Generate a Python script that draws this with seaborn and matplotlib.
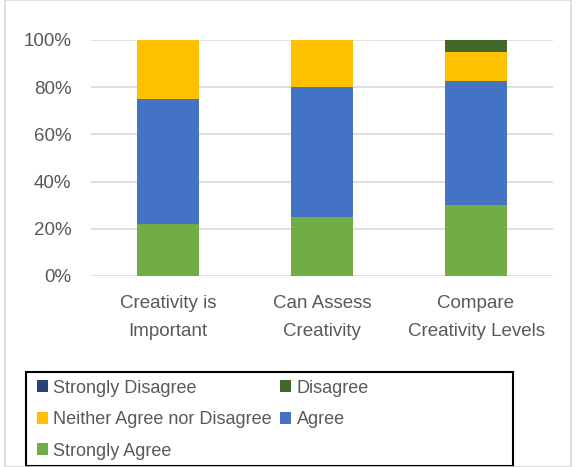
import pandas as pd
import matplotlib.pyplot as plt
import seaborn as sns
from matplotlib.patches import Patch, Rectangle
from matplotlib.ticker import PercentFormatter

categories = ["Creativity is\nImportant", "Can Assess\nCreativity", "Compare\nCreativity Levels"]
strongly_agree = [22.2, 25.0, 30.0]
agree = [52.8, 55.0, 52.5]
neither = [25.0, 20.0, 12.5]
disagree = [0.0, 0.0, 5.0]
strongly_disagree = [0.0, 0.0, 0.0]

series = ["Strongly Agree", "Agree", "Neither Agree nor Disagree", "Disagree", "Strongly Disagree"]
colors = {
    "Strongly Agree": "#70AD47",
    "Agree": "#4472C4",
    "Neither Agree nor Disagree": "#FFC000",
    "Disagree": "#43682B",
    "Strongly Disagree": "#264478",
}

df = pd.DataFrame({
    "category": categories,
    "Strongly Agree": strongly_agree,
    "Agree": agree,
    "Neither Agree nor Disagree": neither,
    "Disagree": disagree,
    "Strongly Disagree": strongly_disagree,
})
# cumulative tops, drawn from the top segment downwards so lower ones overlap
cum = df[series].cumsum(axis=1)
cum["category"] = df["category"]

sns.set_theme(style="white")
plt.rcParams["font.family"] = ["Liberation Sans", "DejaVu Sans"]
text_col = "#595959"

fig = plt.figure(figsize=(5.77, 4.67), dpi=100)
ax = fig.add_axes([91 / 577, 1 - 276 / 467, 462 / 577, 236 / 467])

for s in reversed(series):
    sns.barplot(data=cum, x="category", y=s, color=colors[s], width=0.4,
                saturation=1, ax=ax, edgecolor="none", linewidth=0, zorder=3)

ax.set_ylim(0, 100)
ax.set_xlim(-0.5, 2.5)
ax.set_yticks([0, 20, 40, 60, 80, 100])
ax.yaxis.set_major_formatter(PercentFormatter(decimals=0))
ax.set_xticks(range(len(categories)), labels=categories, linespacing=1.85)
ax.grid(axis="y", color="#D9D9D9", linewidth=1.2, zorder=0)
ax.set_axisbelow(True)
for sp in ax.spines.values():
    sp.set_visible(False)
ax.set_xlabel("")
ax.set_ylabel("")
ax.tick_params(axis="y", colors=text_col, labelsize=13.5, length=0, pad=14)
ax.tick_params(axis="x", colors=text_col, labelsize=13.5, length=0, pad=14)

order = ["Strongly Disagree", "Neither Agree nor Disagree", "Strongly Agree", "Disagree", "Agree"]
handles = [Patch(facecolor=colors[s], edgecolor="none", label=s) for s in order]
leg = fig.legend(handles=handles, loc="upper left", ncol=2, frameon=False,
                 bbox_to_anchor=(33 / 577, 1 - 376 / 467), fontsize=13,
                 handlelength=0.62, handleheight=0.62, handletextpad=0.3,
                 columnspacing=0.45, labelspacing=0.8, borderpad=0.2,
                 borderaxespad=0)
for t in leg.get_texts():
    t.set_color(text_col)

# legend box and chart area border
fig.patches.append(Rectangle((26 / 577, 1 - 466 / 467), 487 / 577, 94 / 467,
                             transform=fig.transFigure, fill=False,
                             edgecolor="black", linewidth=1.5))
fig.patches.append(Rectangle((5 / 577, 0), 566 / 577, 1, transform=fig.transFigure,
                             fill=False, edgecolor="#D9D9D9", linewidth=1.2))

fig.savefig("out.png", dpi=100)
